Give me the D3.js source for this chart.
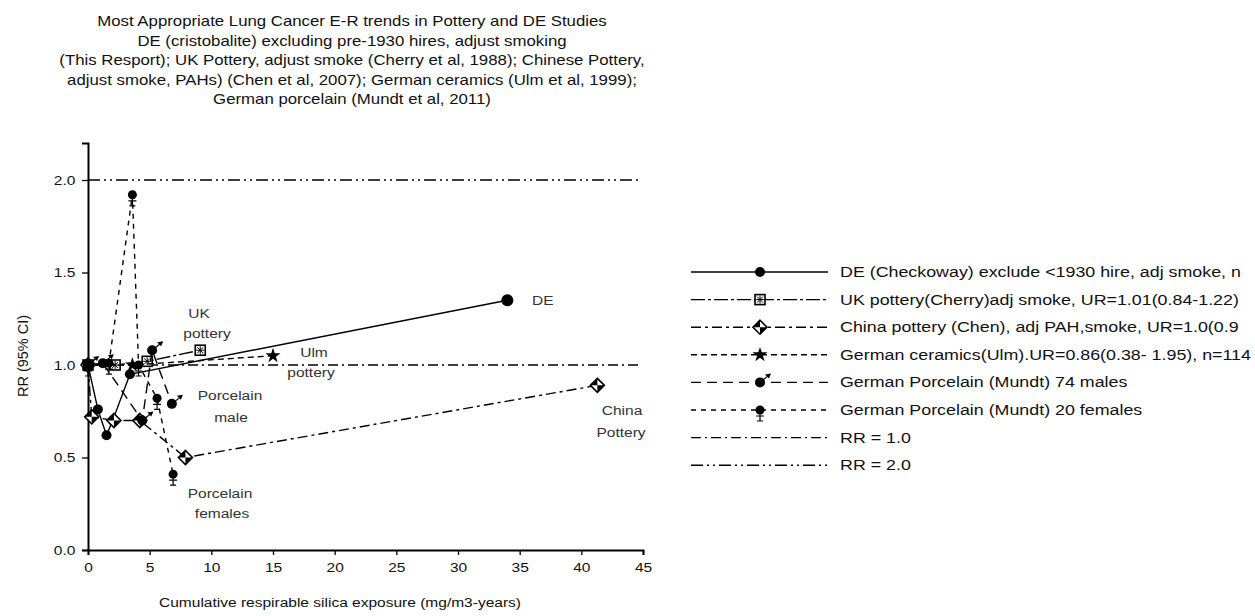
<!DOCTYPE html>
<html>
<head>
<meta charset="utf-8">
<style>
body { margin: 0; background: #fff; }
svg { display: block; font-family: "Liberation Sans", Arial, sans-serif; }
.domain { stroke: #000; stroke-width: 2px; }
.tick line { stroke: #000; stroke-width: 1.3px; }
.tick text { font-size: 13.5px; fill: #111; }
.ser { fill: none; stroke: #000; stroke-width: 1.4px; }
.note { fill: #333; font-size: 13.5px; }
</style>
</head>
<body>
<svg width="1255" height="616"></svg>
<script src="https://cdnjs.cloudflare.com/ajax/libs/d3/7.8.5/d3.min.js"></script>
<script>
// values
var titleLines = [
  "Most Appropriate Lung Cancer E-R trends in Pottery and DE Studies",
  "DE (cristobalite) excluding pre-1930 hires, adjust smoking",
  "(This Resport); UK Pottery, adjust smoke (Cherry et al, 1988); Chinese Pottery,",
  "adjust smoke, PAHs) (Chen et al, 2007); German ceramics (Ulm et al, 1999);",
  "German porcelain (Mundt et al, 2011)"
];
var xTicks = [0, 5, 10, 15, 20, 25, 30, 35, 40, 45];
var yTicks = [0, 0.5, 1.0, 1.5, 2.0];

var deX = [0, 0.8, 1.5, 2.0, 3.4, 34];
var deY = [1.0, 0.76, 0.62, 0.70, 0.95, 1.35];
var ukX = [0, 2.2, 4.8, 9.1];
var ukY = [1.0, 1.0, 1.02, 1.08];
var chinaX = [0, 0.3, 2.1, 4.2, 7.9, 41.3];
var chinaY = [1.0, 0.72, 0.70, 0.70, 0.50, 0.89];
var ulmX = [0, 3.6, 15.0];
var ulmY = [1.0, 1.0, 1.05];
var maleX = [0, 1.2, 4.4, 5.2, 6.8];
var maleY = [1.0, 1.01, 0.70, 1.08, 0.79];
var femaleX = [0, 1.7, 3.6, 4.1, 5.6, 6.9];
var femaleY = [1.0, 1.01, 1.92, 1.0, 0.82, 0.41];
var refLevels = [1.0, 2.0];

var legendLabels = [
  "DE (Checkoway) exclude <1930 hire, adj smoke, n",
  "UK pottery(Cherry)adj smoke, UR=1.01(0.84-1.22)",
  "China pottery (Chen), adj PAH,smoke, UR=1.0(0.9",
  "German ceramics(Ulm).UR=0.86(0.38- 1.95), n=114",
  "German Porcelain  (Mundt) 74 males",
  "German Porcelain (Mundt) 20 females",
  "RR = 1.0",
  "RR = 2.0"
];

var svg = d3.select("svg");
var sx = 1.15; // the picture's lettering is drawn wide

var x = d3.scaleLinear().domain([0, 45]).range([88, 643]);
var y = d3.scaleLinear().domain([0, 2.2]).range([550, 143]);

function wideText(g, px, py, str, anchor, cls, size, stretch) {
  var t = g.append("g").attr("transform", "translate(" + px + "," + py + ") scale(" + (stretch || sx) + ",1)")
    .append("text").attr("text-anchor", anchor || "start").text(str);
  if (cls) t.attr("class", cls);
  if (size) t.attr("font-size", size);
  return t;
}

// title
titleLines.forEach(function(s, i) {
  wideText(svg, 352, 26 + i * 19.5, s, "middle", null, 14, 1.2).attr("fill", "#111");
});

// axes
var gy = svg.append("g").attr("transform", "translate(" + x(0) + ",0)");
gy.call(d3.axisLeft(y).tickValues(d3.range(0, 2.21, 0.1)).tickSize(3).tickFormat(""));
gy.call(d3.axisLeft(y).tickValues(yTicks).tickSize(6).tickPadding(5).tickFormat(d3.format(".1f")));
gy.selectAll(".tick text").attr("transform", "scale(" + sx + ",1)");

var gx = svg.append("g").attr("transform", "translate(0," + y(0) + ")");
gx.call(d3.axisBottom(x).tickValues(d3.range(0, 46, 1)).tickSize(3).tickFormat(""));
gx.call(d3.axisBottom(x).tickValues(xTicks).tickSize(5).tickPadding(7));
gx.selectAll(".tick text").attr("transform", "scale(" + sx + ",1)");

wideText(svg, 340, 607, "Cumulative respirable silica exposure (mg/m3-years)", "middle", null, 13.5).attr("fill", "#111");
svg.append("text").attr("transform", "translate(28,356) rotate(-90)")
  .attr("text-anchor", "middle").attr("font-size", 14.5).attr("fill", "#111").text("RR (95% CI)");

// series
var series = [
  { xs: deX, ys: deY, dash: null, mark: "dot" },
  { xs: ukX, ys: ukY, dash: "14,3,3,3", mark: "square" },
  { xs: chinaX, ys: chinaY, dash: "10,4,3,4", mark: "diamond" },
  { xs: ulmX, ys: ulmY, dash: "6,4", mark: "star" },
  { xs: maleX, ys: maleY, dash: "10,6", mark: "arrow" },
  { xs: femaleX, ys: femaleY, dash: "5,5", mark: "bar" }
];

var line = d3.line().x(function(d) { return x(d[0]); }).y(function(d) { return y(d[1]); });

// reference lines
svg.append("line").attr("class", "ser")
  .attr("x1", x(0)).attr("x2", x(44.6)).attr("y1", y(refLevels[0])).attr("y2", y(refLevels[0]))
  .attr("stroke-dasharray", "10,4,2,4");
svg.append("line").attr("class", "ser")
  .attr("x1", x(0)).attr("x2", x(44.6)).attr("y1", y(refLevels[1])).attr("y2", y(refLevels[1]))
  .attr("stroke-dasharray", "12,4,2,4,2,4");

function drawMark(g, kind, cx, cy, big) {
  var m = g.append("g").attr("transform", "translate(" + cx + "," + cy + ")");
  if (kind === "dot") {
    m.append("circle").attr("r", big ? 6 : 5).attr("fill", "#000");
  } else if (kind === "square") {
    m.append("rect").attr("x", -5).attr("y", -5).attr("width", 10).attr("height", 10)
      .attr("fill", "#fff").attr("stroke", "#000").attr("stroke-width", 1.6);
    m.append("path").attr("d", "M-3,-3L3,3M-3,3L3,-3M0,-4V4M-4,0H4").attr("stroke", "#000").attr("stroke-width", 1);
  } else if (kind === "diamond") {
    m.append("path").attr("d", "M0,-7L7,0L0,7L-7,0Z").attr("fill", "#fff").attr("stroke", "#000").attr("stroke-width", 1.6);
    m.append("path").attr("d", "M0,-7L-7,0L0,0Z M0,7L7,0L0,0Z").attr("fill", "#000");
  } else if (kind === "star") {
    m.append("path").attr("d", d3.symbol(d3.symbolStar, 70)()).attr("fill", "#000");
  } else if (kind === "arrow") {
    m.append("circle").attr("r", 5).attr("fill", "#000");
    m.append("path").attr("d", "M0,0L10,-8").attr("stroke", "#000").attr("stroke-width", 1.2);
    m.append("path").attr("d", "M11,-9L5,-8L9,-4Z").attr("fill", "#000");
  } else if (kind === "bar") {
    m.append("circle").attr("r", 4.5).attr("fill", "#000");
    m.append("path").attr("d", "M0,0V11M-3,11H3M-4,6H4").attr("stroke", "#000").attr("stroke-width", 1.2);
  }
}

series.forEach(function(s) {
  var pts = s.xs.map(function(v, i) { return [v, s.ys[i]]; });
  var p = svg.append("path").datum(pts).attr("class", "ser").attr("d", line);
  if (s.dash) p.attr("stroke-dasharray", s.dash);
  pts.forEach(function(d, i) {
    drawMark(svg, s.mark, x(d[0]), y(d[1]), s.mark === "dot" && i === pts.length - 1);
  });
});

// notes in the plot
var notes = [
  ["DE", 532, 305, "start"],
  ["UK", 199, 318, "middle"], ["pottery", 207, 338, "middle"],
  ["Ulm", 314, 357, "middle"], ["pottery", 311, 377, "middle"],
  ["Porcelain", 230, 400, "middle"], ["male", 231, 422, "middle"],
  ["Porcelain", 220, 498, "middle"], ["females", 222, 518, "middle"],
  ["China", 622, 415, "middle"], ["Pottery", 621, 437, "middle"]
];
notes.forEach(function(n) { wideText(svg, n[1], n[2], n[0], n[3], "note"); });

// legend
var legDash = [null, "14,3,3,3", "10,4,3,4", "6,4", "10,6", "5,5", "10,4,2,4", "12,4,2,4,2,4"];
var legMark = ["dot", "square", "diamond", "star", "arrow", "bar", null, null];
legendLabels.forEach(function(s, i) {
  var ly = 272 + i * 27.6;
  var l = svg.append("line").attr("class", "ser").attr("x1", 691).attr("x2", 828).attr("y1", ly).attr("y2", ly);
  if (legDash[i]) l.attr("stroke-dasharray", legDash[i]);
  if (legMark[i]) drawMark(svg, legMark[i], 760, ly, false);
  wideText(svg, 840, ly + 5, s, "start", null, 15, 1.19).attr("fill", "#111");
});
</script>
</body>
</html>
